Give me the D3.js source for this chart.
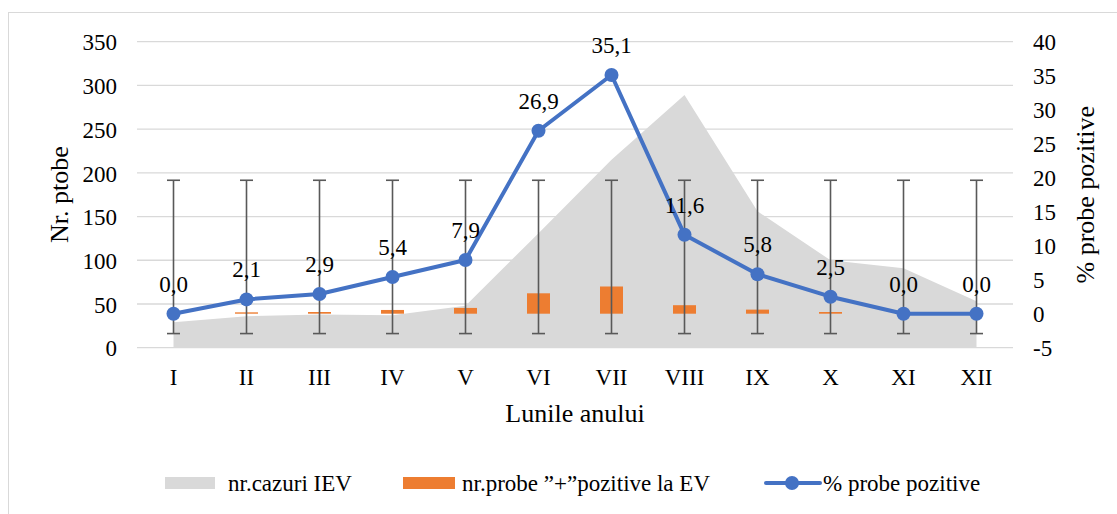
<!DOCTYPE html>
<html>
<head>
<meta charset="utf-8">
<script src="https://cdn.jsdelivr.net/npm/d3@7"></script>
<style>
  body { margin: 0; background: #fff; }
  svg text { font-family: "Liberation Serif", "Times New Roman", serif; fill: #000; }
</style>
</head>
<body>
<div id="chart"></div>
<script>
// Data
const months = ["I", "II", "III", "IV", "V", "VI", "VII", "VIII", "IX", "X", "XI", "XII"];
const cases = [29, 36, 38, 37, 48, 131, 215, 289, 156, 100, 91, 53];          // nr.cazuri IEV (left axis)
const positives = [0, 0.2, 0.25, 0.55, 0.85, 3.0, 4.0, 1.25, 0.6, 0.25, 0, 0]; // nr.probe pozitive (drawn on right axis)
const percent = [0.0, 2.1, 2.9, 5.4, 7.9, 26.9, 35.1, 11.6, 5.8, 2.5, 0.0, 0.0]; // % probe pozitive
const leftTicks = [0, 50, 100, 150, 200, 250, 300, 350];
const rightTicks = [-5, 0, 5, 10, 15, 20, 25, 30, 35, 40];
const legendLabels = ["nr.cazuri IEV", "nr.probe \u201D+\u201Dpozitive la EV", "% probe pozitive"];

const W = 1117, H = 514;
const plot = { left: 137, right: 1013, top: 41.7, bottom: 347.7 };
const colors = { area: "#d9d9d9", bar: "#ed7d31", line: "#4472c4", grid: "#d9d9d9", err: "#595959" };
const serif = "'Liberation Serif', 'Times New Roman', serif";

const svg = d3.select("#chart").append("svg")
    .attr("width", W)
    .attr("height", H)
    .attr("font-family", serif);

// chart border
svg.append("rect")
    .attr("x", 8.5).attr("y", 12.5)
    .attr("width", W + 20).attr("height", H + 20)
    .attr("fill", "none")
    .attr("stroke", "#d9d9d9")
    .attr("stroke-width", 1);

// Scales
const x = d3.scaleBand().domain(months).range([plot.left, plot.right]).padding(0);
const cx = m => x(m) + x.bandwidth() / 2;
const yL = d3.scaleLinear().domain([0, 350]).range([plot.bottom, plot.top]);
const yR = d3.scaleLinear().domain([-5, 40]).range([plot.bottom, plot.top]);

// Gridlines
svg.append("g").selectAll("line")
    .data(leftTicks)
    .join("line")
    .attr("x1", plot.left).attr("x2", plot.right)
    .attr("y1", d => yL(d)).attr("y2", d => yL(d))
    .attr("stroke", colors.grid)
    .attr("stroke-width", 1.3);

// Area: nr.cazuri IEV
const area = d3.area()
    .x((d, i) => cx(months[i]))
    .y0(yL(0))
    .y1(d => yL(d));
svg.append("path")
    .datum(cases)
    .attr("d", area)
    .attr("fill", colors.area);

// Bars: nr.probe pozitive
const barW = 23;
svg.append("g").selectAll("rect")
    .data(positives)
    .join("rect")
    .attr("x", (d, i) => cx(months[i]) - barW / 2)
    .attr("y", d => yR(d))
    .attr("width", barW)
    .attr("height", d => yR(0) - yR(d))
    .attr("fill", colors.bar);

// Error bars (mean +/- standard deviation of the % series)
const mean = d3.mean(percent);
const sd = d3.deviation(percent);
const errG = svg.append("g")
    .attr("stroke", colors.err)
    .attr("stroke-width", 1.6);
months.forEach(m => {
    const xc = cx(m);
    errG.append("line").attr("x1", xc).attr("x2", xc).attr("y1", yR(mean - sd)).attr("y2", yR(mean + sd));
    errG.append("line").attr("x1", xc - 6.5).attr("x2", xc + 6.5).attr("y1", yR(mean - sd)).attr("y2", yR(mean - sd));
    errG.append("line").attr("x1", xc - 6.5).attr("x2", xc + 6.5).attr("y1", yR(mean + sd)).attr("y2", yR(mean + sd));
});

// Line: % probe pozitive
const line = d3.line()
    .x((d, i) => cx(months[i]))
    .y(d => yR(d));
svg.append("path")
    .datum(percent)
    .attr("d", line)
    .attr("fill", "none")
    .attr("stroke", colors.line)
    .attr("stroke-width", 4)
    .attr("stroke-linejoin", "round");

svg.append("g").selectAll("circle")
    .data(percent)
    .join("circle")
    .attr("cx", (d, i) => cx(months[i]))
    .attr("cy", d => yR(d))
    .attr("r", 7)
    .attr("fill", colors.line);

// Data labels
const fmt = d => d3.format(".1f")(d).replace(".", ",");
svg.append("g").selectAll("text")
    .data(percent)
    .join("text")
    .attr("x", (d, i) => cx(months[i]))
    .attr("y", d => yR(d) - 22)
    .attr("text-anchor", "middle")
    .style("font-size", "23px")
    .text(fmt);

// Axes
const plain = d => String(d);
const axL = svg.append("g")
    .attr("transform", `translate(${plot.left},0)`)
    .call(d3.axisLeft(yL).tickValues(leftTicks).tickFormat(plain).tickSize(0).tickPadding(20));
const axR = svg.append("g")
    .attr("transform", `translate(${plot.right},0)`)
    .call(d3.axisRight(yR).tickValues(rightTicks).tickFormat(plain).tickSize(0).tickPadding(20));
const axB = svg.append("g")
    .attr("transform", `translate(0,${plot.bottom})`)
    .call(d3.axisBottom(x).tickSize(0).tickPadding(21));
[axL, axR, axB].forEach(a => {
    a.attr("font-family", serif);
    a.select(".domain").remove();
    a.selectAll("text")
        .style("font-size", "23px")
        .attr("fill", "#000");
});
axL.selectAll("text").attr("dy", "0.36em");
axR.selectAll("text").attr("dy", "0.36em");

// Axis titles
svg.append("text")
    .attr("transform", `translate(59,${(plot.top + plot.bottom) / 2}) rotate(-90)`)
    .attr("text-anchor", "middle")
    .attr("dominant-baseline", "central")
    .style("font-size", "26px")
    .text("Nr. ptobe");

svg.append("text")
    .attr("transform", `translate(1085,${(plot.top + plot.bottom) / 2}) rotate(-90)`)
    .attr("text-anchor", "middle")
    .attr("dominant-baseline", "central")
    .style("font-size", "26px")
    .text("% probe pozitive");

svg.append("text")
    .attr("x", (plot.left + plot.right) / 2)
    .attr("y", 422)
    .attr("text-anchor", "middle")
    .style("font-size", "26px")
    .text("Lunile anului");

// Legend
const ly = 483;
const lg = svg.append("g");
lg.append("rect").attr("x", 165).attr("y", ly - 6).attr("width", 50).attr("height", 12).attr("fill", colors.area);
lg.append("text").attr("x", 228).attr("y", ly + 8).style("font-size", "23px").text(legendLabels[0]);
lg.append("rect").attr("x", 403).attr("y", ly - 6).attr("width", 52).attr("height", 12).attr("fill", colors.bar);
lg.append("text").attr("x", 462).attr("y", ly + 8).style("font-size", "23px").text(legendLabels[1]);
lg.append("line").attr("x1", 766).attr("x2", 820).attr("y1", ly).attr("y2", ly)
    .attr("stroke", colors.line).attr("stroke-width", 4).attr("stroke-linecap", "round");
lg.append("circle").attr("cx", 792).attr("cy", ly).attr("r", 7).attr("fill", colors.line);
lg.append("text").attr("x", 823).attr("y", ly + 8).style("font-size", "23px").text(legendLabels[2]);
</script>
</body>
</html>
